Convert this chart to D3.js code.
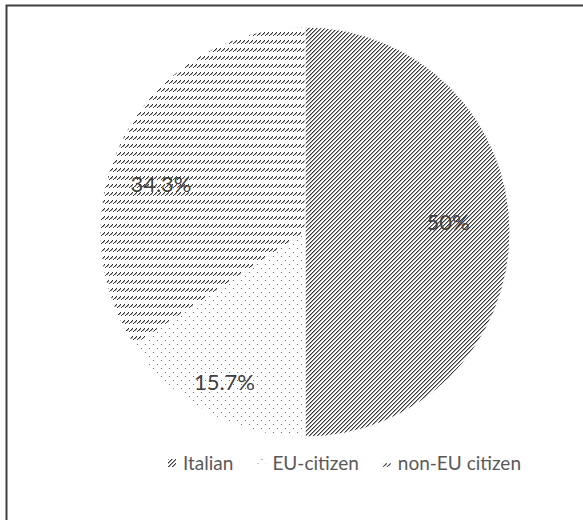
<!DOCTYPE html>
<html><head><meta charset="utf-8">
<script src="https://cdn.jsdelivr.net/npm/d3@7"></script>
<style>html,body{margin:0;padding:0;background:#fff;}svg{display:block;}</style>
</head><body>
<svg id="chart" width="583" height="520"></svg>
<script>
const categories = ["Italian", "EU-citizen", "non-EU citizen"];
const values = [50, 15.7, 34.3];
const labels = ["50%", "15.7%", "34.3%"];

const W = 583, H = 520;
const svg = d3.select("#chart");
const cx = 305, cy = 232, R = 205;
// layout: per-slice label radius factor and angle shift (deg)
const labelLayout = [{k: 0.70, a: -4}, {k: 0.83, a: 0}, {k: 0.74, a: -10}];
const FONT = "Lato, 'Open Sans', sans-serif";

const defs = svg.append("defs");
function pat(id, size, pix, color) {
  const p = defs.append("pattern").attr("id", id).attr("patternUnits", "userSpaceOnUse")
    .attr("width", size).attr("height", size);
  p.append("rect").attr("width", size).attr("height", size).attr("fill", "#fff");
  pix.forEach(([x, y, c]) => p.append("rect").attr("x", x).attr("y", y).attr("width", 1).attr("height", 1)
    .attr("fill", c || color).attr("shape-rendering", "crispEdges"));
}
// Italian: upward diagonal, 4px period
const ita = [];
for (let r = 0; r < 4; r++) { ita.push([(3 - r + 4) % 4, r, "#3a3a3a"]); ita.push([(4 - r) % 4, r, "#a0a0a0"]); }
pat("p0", 4, ita);
// EU-citizen: 5% dots
pat("p1", 8, [[0, 0], [4, 4]], "#707070");
// non-EU: dashed upward diagonal bands
const neu = [];
for (let k = 0; k < 8; k += 4) for (let r = 0; r < 4; r++) {
  neu.push([(k + 3 - r + 8) % 8, r, "#333"]);
  if (r === 1 || r === 2) neu.push([(k + 4 - r + 8) % 8, r, "#999"]);
}
pat("p2", 8, neu);

// border
svg.append("rect").attr("x", 6.5).attr("y", 5.5).attr("width", 620).attr("height", 560)
  .attr("fill", "none").attr("stroke", "#404040").attr("stroke-width", 2);

const pie = d3.pie().sort(null).value(d => d)(values);
const arc = d3.arc().innerRadius(0).outerRadius(R);
const g = svg.append("g").attr("transform", `translate(${cx},${cy})`);
g.selectAll("path.slice").data(pie).join("path").attr("class", "slice")
  .attr("d", arc).attr("fill", (d, i) => `url(#p${i})`)
  .attr("stroke", "#fff").attr("stroke-width", 1);

g.selectAll("text.lbl").data(pie).join("text").attr("class", "lbl")
  .attr("transform", (d, i) => {
    const a = (d.startAngle + d.endAngle) / 2 + labelLayout[i].a * Math.PI / 180;
    const r = R * labelLayout[i].k;
    return `translate(${r * Math.sin(a)},${-r * Math.cos(a)})`;
  })
  .attr("text-anchor", "middle").attr("dy", "0.35em")
  .style("font-family", FONT).style("font-size", "22px")
  .attr("fill", "#404040").text((d, i) => labels[i]);

// legend
const legY = 463, legStart = 168, sw = 8, swGap = 7, itemGap = 24;
const lg = svg.append("g");
let x = legStart;
categories.forEach((c, i) => {
  const it = lg.append("g").attr("transform", `translate(${x},${legY})`);
  it.append("rect").attr("x", 0).attr("y", -4).attr("width", sw).attr("height", sw)
    .attr("fill", `url(#p${i})`);
  const t = it.append("text").attr("x", sw + swGap).attr("dy", "0.35em")
    .style("font-family", FONT).style("font-size", "19px")
    .attr("fill", "#595959").text(c);
  x += sw + swGap + t.node().getComputedTextLength() + itemGap;
});
</script>
</body></html>
